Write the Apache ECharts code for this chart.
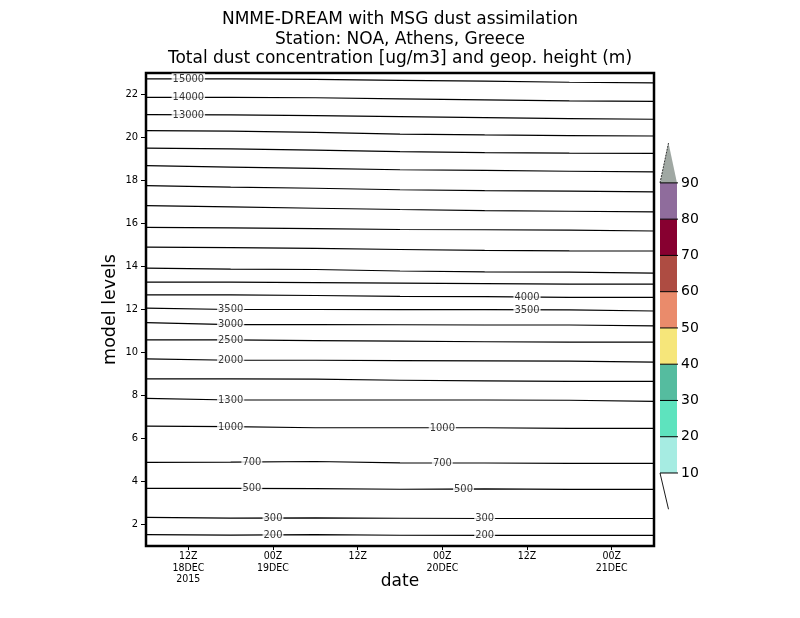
<!DOCTYPE html>
<html>
<head>
<meta charset="utf-8">
<script src="https://cdn.jsdelivr.net/npm/echarts@6/dist/echarts.min.js"></script>
<style>
html,body{margin:0;padding:0;background:#fff;}
#main{width:800px;height:618px;}
</style>
</head>
<body>
<div id="main"></div>
<script>
// ---- data ----
// time axis: hours since 06Z 18DEC2015
const hours = [0, 12, 24, 36, 48, 60, 72];
const timeTickHours = [6, 18, 30, 42, 54, 66];
const timeTickLabels = ['12Z\n18DEC\n2015', '00Z\n19DEC', '12Z', '00Z\n20DEC', '12Z', '00Z\n21DEC'];
const levelTicks = [2, 4, 6, 8, 10, 12, 14, 16, 18, 20, 22];

// model level position of each geopotential-height contour at the times above
const h15000 = [22.73, 22.73, 22.70, 22.66, 22.62, 22.57, 22.54];
const h14000 = [21.87, 21.87, 21.85, 21.80, 21.75, 21.70, 21.68];
const h13000 = [21.06, 21.05, 21.02, 20.97, 20.92, 20.88, 20.85];
const h12000 = [20.32, 20.30, 20.24, 20.16, 20.12, 20.09, 20.07];
const h11000 = [19.51, 19.47, 19.41, 19.34, 19.30, 19.27, 19.26];
const h10000 = [18.69, 18.62, 18.56, 18.50, 18.47, 18.43, 18.40];
const h9000  = [17.76, 17.69, 17.64, 17.57, 17.53, 17.51, 17.47];
const h8000  = [16.83, 16.77, 16.71, 16.65, 16.60, 16.57, 16.54];
const h7000  = [15.82, 15.80, 15.76, 15.72, 15.71, 15.69, 15.65];
const h6000  = [14.90, 14.88, 14.84, 14.79, 14.75, 14.73, 14.72];
const h5000  = [13.92, 13.88, 13.86, 13.79, 13.75, 13.74, 13.69];
const h4500  = [13.27, 13.27, 13.25, 13.23, 13.20, 13.18, 13.18];
const h4000  = [12.68, 12.68, 12.65, 12.61, 12.60, 12.56, 12.56];
const h3500  = [12.06, 12.00, 12.00, 11.99, 11.99, 11.98, 11.93];
const h3000  = [11.39, 11.30, 11.30, 11.29, 11.28, 11.28, 11.24];
const h2500  = [10.59, 10.59, 10.55, 10.53, 10.50, 10.48, 10.48];
const h2000  = [9.70, 9.64, 9.64, 9.62, 9.61, 9.60, 9.55];
const h1500  = [8.77, 8.77, 8.76, 8.71, 8.68, 8.66, 8.66];
const h1300  = [7.87, 7.79, 7.79, 7.79, 7.79, 7.78, 7.73];
const h1000  = [6.58, 6.55, 6.50, 6.50, 6.50, 6.47, 6.47];
const h700   = [4.89, 4.90, 4.93, 4.87, 4.86, 4.84, 4.84];
const h500   = [3.68, 3.68, 3.67, 3.64, 3.66, 3.63, 3.63];
const h300   = [2.33, 2.30, 2.31, 2.29, 2.28, 2.28, 2.28];
const h200   = [1.53, 1.51, 1.53, 1.50, 1.49, 1.49, 1.49];

const contourHeights = [15000, 14000, 13000, 12000, 11000, 10000, 9000, 8000, 7000, 6000, 5000, 4500,
                        4000, 3500, 3000, 2500, 2000, 1500, 1300, 1000, 700, 500, 300, 200];
const contourLines = [h15000, h14000, h13000, h12000, h11000, h10000, h9000, h8000, h7000, h6000, h5000, h4500,
                      h4000, h3500, h3000, h2500, h2000, h1500, h1300, h1000, h700, h500, h300, h200];

// contour labels: which contour, at which hour
const labelHeights = [15000, 14000, 13000, 3500, 3000, 2500, 2000, 1300, 1000, 1000, 700, 700, 500, 500, 300, 300, 200, 200, 4000, 3500];
const labelHours   = [6, 6, 6, 12, 12, 12, 12, 12, 12, 42, 15, 42, 15, 45, 18, 48, 18, 48, 54, 54];

// colour bar
const colorBounds = [10, 20, 30, 40, 50, 60, 70, 80, 90];
const colorBandColors = ['#a6ece2', '#5ee3be', '#55bc9f', '#f6e67a', '#ea8b6b', '#ae4c42', '#870030', '#8f6c9c'];
const colorOverColor = '#a0a8a3';

// ---- build ----
function levelAt(line, hr) {
  for (let i = 0; i < hours.length - 1; i++) {
    if (hr >= hours[i] && hr <= hours[i + 1]) {
      const t = (hr - hours[i]) / (hours[i + 1] - hours[i]);
      return line[i] + t * (line[i + 1] - line[i]);
    }
  }
  return line[line.length - 1];
}

const FONT = 'DejaVu Sans';
const NARROW = 'DejaVu Sans Condensed';
const series = [];
contourLines.forEach((line, k) => {
  series.push({
    type: 'line', name: String(contourHeights[k]), xAxisIndex: 0, yAxisIndex: 0,
    data: hours.map((h, i) => [h, line[i]]),
    symbol: 'none', silent: true, z: 2,
    lineStyle: { color: '#000', width: 1.2 }
  });
});
series.push({
  type: 'scatter', xAxisIndex: 0, yAxisIndex: 0, symbolSize: 0, z: 5, silent: true,
  data: labelHeights.map((hgt, i) => {
    const line = contourLines[contourHeights.indexOf(hgt)];
    return [labelHours[i], levelAt(line, labelHours[i]), hgt];
  }),
  label: {
    show: true, position: 'inside', formatter: p => String(p.value[2]),
    color: '#000', fontFamily: NARROW, fontSize: 11, backgroundColor: '#fff', padding: [0, 1]
  }
});
// colour bar: transparent base then stacked bands
series.push({
  type: 'bar', xAxisIndex: 1, yAxisIndex: 1, stack: 'cb', barWidth: '100%', silent: true,
  data: [colorBounds[0]], itemStyle: { color: 'rgba(0,0,0,0)' }
});
colorBandColors.forEach((c, i) => {
  series.push({
    type: 'bar', xAxisIndex: 1, yAxisIndex: 1, stack: 'cb', barWidth: '100%', silent: true,
    data: [colorBounds[i + 1] - colorBounds[i]],
    itemStyle: { color: c, borderWidth: 0 }
  });
});
series.push({
  type: 'custom', xAxisIndex: 1, yAxisIndex: 1, silent: true, data: [[0, 0]], z: 4,
  renderItem: function (params, api) {
    const top = colorBounds[colorBounds.length - 1];
    const base = api.coord([0, top]);
    const tip = api.coord([0, 101]);
    const low = api.coord([0, colorBounds[0]]);
    const lowTip = api.coord([0, 0]);
    const half = api.size([1, 0])[0] / 2;
    const children = [
      { type: 'polygon', shape: { points: [[base[0] - half, base[1]], [base[0] + half, base[1]], [tip[0], tip[1]]] },
        style: { fill: colorOverColor, stroke: null } },
      { type: 'line', shape: { x1: base[0] - half, y1: base[1], x2: tip[0], y2: tip[1] },
        style: { stroke: '#222', lineWidth: 0.9, lineDash: [2, 1] } },
      { type: 'line', shape: { x1: low[0] - half, y1: low[1], x2: lowTip[0], y2: lowTip[1] },
        style: { stroke: '#000', lineWidth: 0.9 } }
    ];
    colorBounds.forEach(b => {
      const p = api.coord([0, b]);
      children.push({ type: 'line', shape: { x1: p[0] - half, y1: p[1], x2: p[0] + half + 1, y2: p[1] },
        style: { stroke: '#000', lineWidth: 1 } });
    });
    return { type: 'group', children: children };
  }
});

const chart = echarts.init(document.getElementById('main'), null, { renderer: 'canvas' });
chart.setOption({
  backgroundColor: '#fff',
  animation: false,
  title: {
    text: 'NMME-DREAM with MSG dust assimilation\nStation: NOA, Athens, Greece\nTotal dust concentration [ug/m3] and geop. height (m)',
    left: 'center', top: 5,
    textStyle: { fontFamily: FONT, fontWeight: 'normal', fontSize: 17, lineHeight: 19.5, color: '#000', align: 'center' }
  },
  grid: [
    { left: 146, right: 146, top: 73, bottom: 72, show: true, borderColor: '#000', borderWidth: 2.5, backgroundColor: 'transparent' },
    { left: 660, width: 17, top: 143, bottom: 108.75, show: false }
  ],
  xAxis: [
    {
      type: 'value', gridIndex: 0, min: 0, max: 72,
      name: 'date', nameLocation: 'middle', nameGap: 27, nameMoveOverlap: false,
      nameTextStyle: { fontFamily: FONT, fontSize: 17, color: '#000' },
      axisLine: { show: false }, splitLine: { show: false },
      axisTick: { show: true, length: 4, customValues: timeTickHours, lineStyle: { color: '#000' } },
      axisLabel: {
        customValues: timeTickHours, margin: 5, fontFamily: NARROW, fontSize: 10.5, lineHeight: 11.5, color: '#000',
        formatter: v => timeTickLabels[timeTickHours.indexOf(v)]
      }
    },
    { type: 'category', gridIndex: 1, data: [''], show: false, boundaryGap: true }
  ],
  yAxis: [
    {
      type: 'value', gridIndex: 0, min: 1, max: 23,
      name: 'model levels', nameLocation: 'middle', nameGap: 27, nameRotate: 90, nameMoveOverlap: false,
      nameTextStyle: { fontFamily: FONT, fontSize: 17.5, color: '#000' },
      axisLine: { show: false }, splitLine: { show: false },
      axisTick: { show: true, length: 5, customValues: levelTicks, lineStyle: { color: '#000' } },
      axisLabel: { customValues: levelTicks, margin: 8, fontFamily: NARROW, fontSize: 11, color: '#000' }
    },
    {
      type: 'value', gridIndex: 1, min: 0, max: 101, position: 'right',
      axisLine: { show: false }, splitLine: { show: false }, axisTick: { show: false },
      axisLabel: { customValues: colorBounds, margin: 4, fontFamily: FONT, fontSize: 14, color: '#000' }
    }
  ],
  series: series
});
</script>
</body>
</html>
